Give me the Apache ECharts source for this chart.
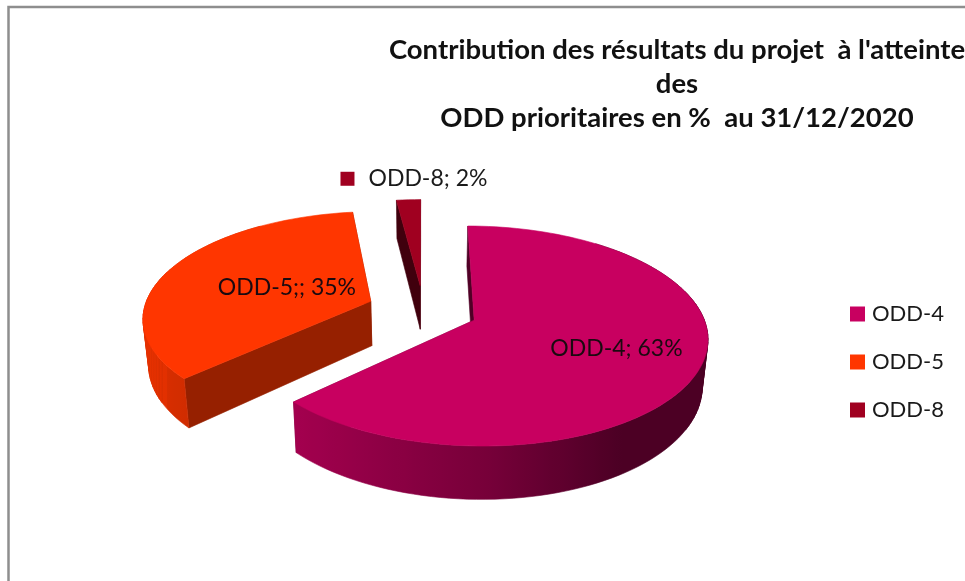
<!DOCTYPE html>
<html>
<head>
<meta charset="utf-8">
<style>html,body{margin:0;padding:0;background:#fff}#chart{width:965px;height:581px}</style>
<script src="https://cdn.jsdelivr.net/npm/echarts@6/dist/echarts.min.js"></script>
</head>
<body>
<div id="chart"></div>
<script>
const titleText = "Contribution des résultats du projet  à l'atteinte\ndes\nODD prioritaires en %  au 31/12/2020";
const categories = ['ODD-4', 'ODD-5', 'ODD-8'];
const shares = [63, 35, 2];
const labels = ['ODD-4; 63%', 'ODD-5;; 35%', 'ODD-8; 2%'];
const colors = ['#c80060', '#ff3600', '#a00020'];
const explosions = [0.24, 0.25, 0.24];
const labelRadius = [0.64, 0.41, 1];

// fake 3d projection, the numbers are fitted to the picture
const CX = 423.5, CY = 310, RX = 227, RY = 104.8, PERSP = 0.1427, DEPTH = 45, BOTTOM_SCALE = 0.98;

function project(u, v, h) {
  const s = 1 / (1 - PERSP * v);
  const shrink = h ? BOTTOM_SCALE : 1;
  return [CX + RX * u * s * shrink, CY + RY * v * s + (h ? DEPTH * s : 0)];
}

function shade(hex, f) {
  const n = parseInt(hex.slice(1), 16);
  const c = [n >> 16, (n >> 8) & 255, n & 255].map(function (x) { return Math.round(x * f); });
  return 'rgb(' + c.join(',') + ')';
}

// light comes from the left, the right half goes dark quickly
function wallShade(a) {
  const nx = Math.sin(a);
  return Math.max(0.38, 0.6 - (nx > 0 ? 0.42 : 0.3) * nx);
}

// angles clockwise from the top, from the shares
const total = shares.reduce(function (a, b) { return a + b; }, 0);
let running = 0;
const slices = shares.map(function (val, i) {
  const start = running / total * Math.PI * 2;
  running += val;
  const end = running / total * Math.PI * 2;
  const mid = (start + end) / 2;
  return { start: start, end: end, mid: mid, ox: Math.sin(mid) * explosions[i], oy: -Math.cos(mid) * explosions[i] };
});

function renderSlice(params, api) {
  const idx = params.seriesIndex;
  const sl = slices[idx];
  const base = colors[idx];
  const children = [];
  let z = 0;

  function rim(a, h) { return project(sl.ox + Math.sin(a), sl.oy - Math.cos(a), h); }
  const apexTop = project(sl.ox, sl.oy, false);
  const apexBottom = project(sl.ox, sl.oy, true);

  function poly(points, fill) {
    children.push({
      type: 'polygon',
      z2: z++,
      shape: { points: points },
      style: { fill: fill, stroke: fill, lineWidth: 0.6 }
    });
  }

  // radial walls first
  poly([apexTop, rim(sl.end, false), rim(sl.end, true), apexBottom], shade(base, 0.59));
  poly([apexTop, rim(sl.start, false), rim(sl.start, true), apexBottom], shade(base, idx === 1 ? 0.59 : 0.4));

  const n = Math.max(2, Math.ceil((sl.end - sl.start) / (Math.PI / 90)));
  const angles = [];
  for (let k = 0; k <= n; k++) {
    angles.push(sl.start + (sl.end - sl.start) * k / n);
  }

  // flat quads at the sides of the wall, they only fill the sliver between the rims
  for (let k = 0; k < n; k++) {
    const c = Math.cos(angles[k]);
    if (c > 0.8 || c < -0.5) continue;
    poly([rim(angles[k], false), rim(angles[k + 1], false), rim(angles[k + 1], true), rim(angles[k], true)], shade(base, wallShade(angles[k])));
  }

  // front of the outer wall in one piece, shading runs left to right
  const front = angles.filter(function (a) { return Math.cos(a) <= 0.3; });
  if (front.length > 1) {
    const samples = front.map(function (a) {
      return { x: rim(a, false)[0], f: wallShade(a) };
    }).sort(function (p, q) { return p.x - q.x; });
    const x0 = samples[0].x, x1 = samples[samples.length - 1].x;
    const outline = front.map(function (a) { return rim(a, false); })
      .concat(front.slice().reverse().map(function (a) { return rim(a, true); }));
    poly(outline, {
      type: 'linear', x: x0, y: 0, x2: x1, y2: 0, global: true,
      colorStops: samples.map(function (p) {
        return { offset: (p.x - x0) / (x1 - x0), color: shade(base, p.f) };
      })
    });
  }

  // top face
  poly([apexTop].concat(angles.map(function (a) { return rim(a, false); })), base);

  // data label
  const r = labelRadius[idx];
  const p = project(sl.ox + Math.sin(sl.mid) * r, sl.oy - Math.cos(sl.mid) * r, false);
  if (r < 1) {
    children.push({
      type: 'text', z2: z++,
      style: { x: p[0], y: p[1], text: labels[idx], align: 'center', verticalAlign: 'middle', fill: '#1a0a10', font: '23px Lato' }
    });
  } else {
    // small slice: label sits above with its key
    children.push({
      type: 'rect', z2: z++,
      shape: { x: p[0] - 68, y: p[1] - 28, width: 14, height: 14 },
      style: { fill: base }
    });
    children.push({
      type: 'text', z2: z++,
      style: { x: p[0] - 40, y: p[1] - 21, text: labels[idx], align: 'left', verticalAlign: 'middle', fill: '#1a1a1a', font: '23px Lato' }
    });
  }
  return { type: 'group', children: children };
}

const chart = echarts.init(document.getElementById('chart'), null, { renderer: 'canvas' });
chart.setOption({
  backgroundColor: '#fff',
  animation: false,
  title: {
    text: titleText,
    left: 672,
    top: 28,
    textAlign: 'center',
    textStyle: { fontFamily: 'Lato', fontWeight: 'bold', fontSize: 27.5, lineHeight: 34, color: '#111' }
  },
  legend: {
    orient: 'vertical',
    left: 845,
    top: 298,
    icon: 'rect',
    itemWidth: 15,
    itemHeight: 15,
    itemGap: 26,
    data: categories,
    textStyle: { fontFamily: 'Lato', fontSize: 22, color: '#1a1a1a', padding: [0, 0, 0, 2] }
  },
  graphic: [{
    type: 'rect',
    shape: { x: 8.5, y: 7, width: 1000, height: 640 },
    style: { fill: 'none', stroke: '#8e8e8e', lineWidth: 2.5 },
    silent: true
  }],
  series: categories.map(function (name, i) {
    return {
      type: 'custom',
      name: name,
      coordinateSystem: 'none',
      z: 3 - i + 2,
      itemStyle: { color: colors[i] },
      data: [[shares[i]]],
      renderItem: renderSlice
    };
  })
});
</script>
</body>
</html>
